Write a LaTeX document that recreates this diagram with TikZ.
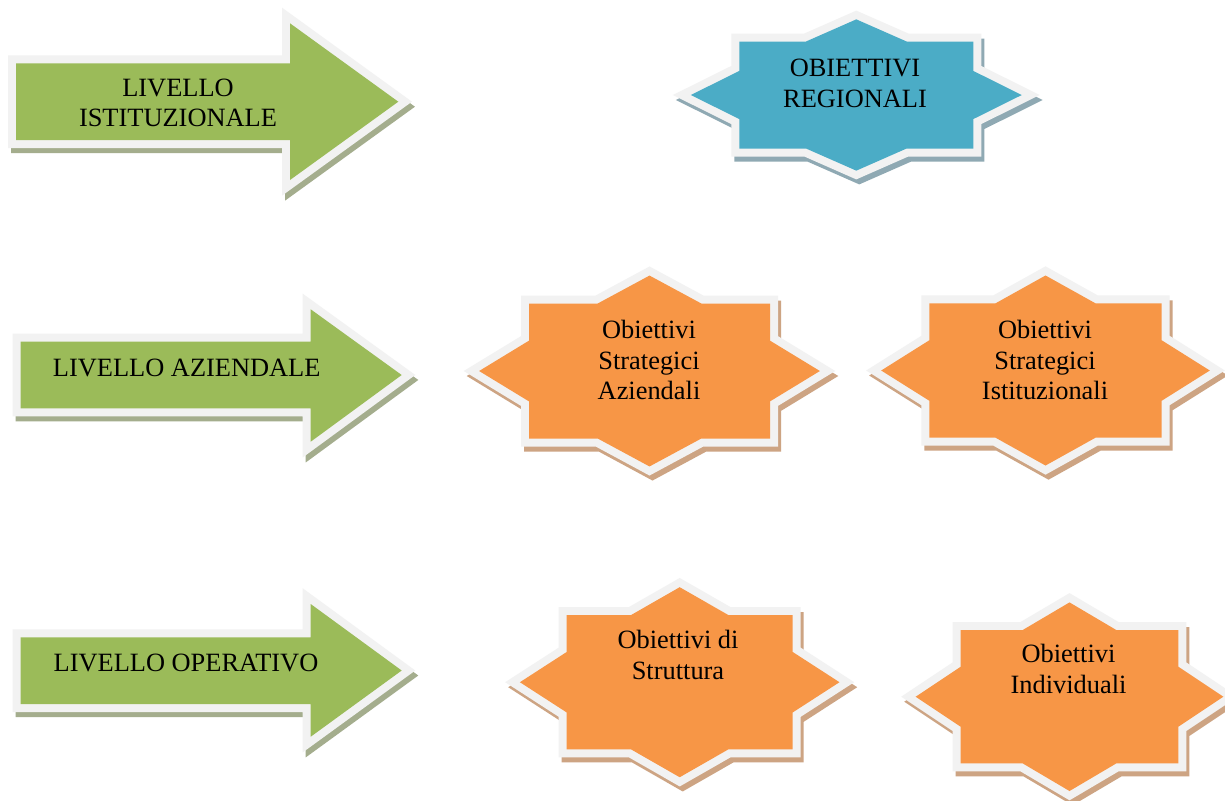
\documentclass[tikz,border=0pt]{standalone}
\usepackage{fontspec}
\setmainfont{Liberation Serif}
\definecolor{grn}{HTML}{9BBB59}
\definecolor{org}{HTML}{F79646}
\definecolor{blu}{HTML}{4BACC6}
\definecolor{bord}{HTML}{F2F2F2}
\definecolor{grnsh}{HTML}{A4AD8D}
\definecolor{orgsh}{HTML}{CDA483}
\definecolor{blush}{HTML}{8FA9B3}
\newcommand\starpath[4]{({#1},{#2-1.414*#4}) -- ({#1+0.43*#3},{#2-#4}) -- ({#1+#3},{#2-#4}) -- ({#1+#3},{#2-0.45*#4}) -- ({#1+1.414*#3},{#2}) -- ({#1+#3},{#2+0.45*#4}) -- ({#1+#3},{#2+#4}) -- ({#1+0.43*#3},{#2+#4}) -- ({#1},{#2+1.414*#4}) -- ({#1-0.43*#3},{#2+#4}) -- ({#1-#3},{#2+#4}) -- ({#1-#3},{#2+0.45*#4}) -- ({#1-1.414*#3},{#2}) -- ({#1-#3},{#2-0.45*#4}) -- ({#1-#3},{#2-#4}) -- ({#1-0.43*#3},{#2-#4}) -- cycle}
\newcommand\drawstar[6]{%
  \filldraw[shadowshape, fill=#6, draw=#6] \starpath{#2}{#3}{#4}{#5};
  \filldraw[bordershape] \starpath{#2}{#3}{#4}{#5};
  \fill[#1] \starpath{#2}{#3}{#4}{#5};
}
\newcommand\arrowpath[8]{(#1,#2) -- (#4,#2) -- (#4,#5) -- (#7,#8) -- (#4,#6) -- (#4,#3) -- (#1,#3) -- cycle}
\newcommand\drawarrow[8]{%
  \filldraw[shadowshape, fill=grnsh, draw=grnsh] \arrowpath{#1}{#2}{#3}{#4}{#5}{#6}{#7}{#8};
  \filldraw[bordershape] \arrowpath{#1}{#2}{#3}{#4}{#5}{#6}{#7}{#8};
  \fill[grn] \arrowpath{#1}{#2}{#3}{#4}{#5}{#6}{#7}{#8};
}
\tikzset{
  shadowshape/.style={line width=8pt, shift={(3,5)}},
  bordershape/.style={line width=8pt, fill=bord, draw=bord},
  lbl/.style={anchor=base, align=center, inner sep=0pt, font=\fontsize{13.2}{15.2}\selectfont}
}
\begin{document}
\begin{tikzpicture}[x=0.5pt, y=-0.5pt]
\useasboundingbox (0,0) rectangle (1225,800);
\clip (0,0) rectangle (1225,800);
\fill[white] (0,0) rectangle (1225,800);
% arrows
\drawarrow{16}{63.3}{140}{290}{23.3}{180}{398.3}{101.7}
\drawarrow{20.7}{341.7}{408.3}{310.7}{309.3}{441.7}{401.7}{375}
\drawarrow{20.7}{637.3}{704}{310.7}{604}{736.7}{401.7}{670.5}
% stars
\drawstar{blu}{856.3}{95}{117}{53.5}{blush}
\drawstar{org}{649.5}{371}{120.5}{67.5}{orgsh}
\drawstar{org}{1045.5}{370.5}{116.2}{67.2}{orgsh}
\drawstar{org}{679.7}{682.2}{113}{67.2}{orgsh}
\drawstar{org}{1069.5}{696.7}{108.8}{66.7}{orgsh}
% labels (anchor base = last line's baseline)
\node[lbl] (istituzionale) at (178,126.7) {LIVELLO\\ISTITUZIONALE};
\node[lbl] (aziendale) at (186.7,376.7) {LIVELLO AZIENDALE};
\node[lbl] (operativo) at (186,671.7) {LIVELLO OPERATIVO};
\node[lbl] (regionali) at (855,107.3) {OBIETTIVI\\REGIONALI};
\node[lbl] (strataz) at (649,399.5) {Obiettivi\\Strategici\\Aziendali};
\node[lbl] (stratist) at (1045,399.5) {Obiettivi\\Strategici\\Istituzionali};
\node[lbl] (struttura) at (678,679.3) {Obiettivi di\\Struttura};
\node[lbl] (individuali) at (1068.5,693.3) {Obiettivi\\Individuali};
\end{tikzpicture}
\end{document}
